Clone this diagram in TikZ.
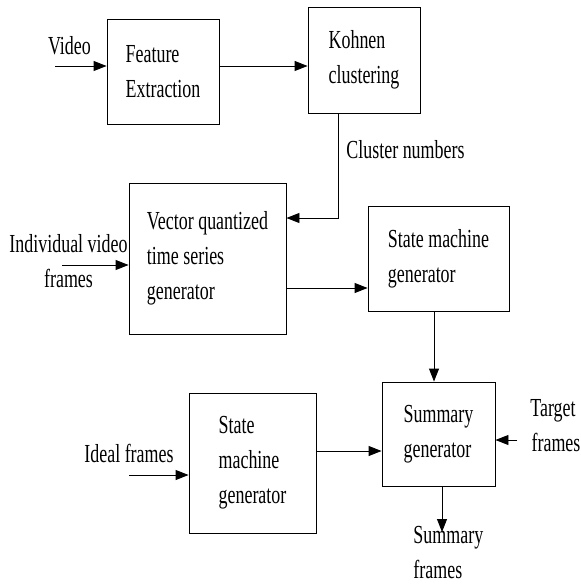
\documentclass[tikz,border=0pt]{standalone}
\usepackage{fontspec}
\setmainfont{Liberation Serif}[FakeStretch=0.69]
\usepackage{tikz}
\usetikzlibrary{positioning}
\usetikzlibrary{arrows.meta}
\usetikzlibrary{calc}

\begin{document}
\begin{tikzpicture}[
    x=1pt,y=-1pt,
    >={Triangle[length=13pt,width=10pt]},
    line width=0.9pt,
% Block style
    block/.style={rectangle,draw,align=left,inner sep=0pt},
    lbl/.style={inner sep=1pt},
    font={\fontsize{26pt}{35pt}\selectfont}
    ]

  \useasboundingbox (0,0) rectangle (580,585);

  \node (fe) at (163,71.5) [block,minimum width=112,minimum height=105] {Feature\\Extraction};
  \node (kc) at (364,60) [block,minimum width=112,minimum height=106] {Kohnen\\clustering};
  \node (vq) at (207.5,258.5) [block,minimum width=157,minimum height=151] {Vector quantized\\time series\\generator};
  \node (sm) at (438.5,258.5) [block,minimum width=141,minimum height=105] {State machine\\generator};
  \node (sg) at (438.5,434) [block,minimum width=113,minimum height=104] {Summary\\generator\hspace{12pt}};
  \node (sm2) at (252.5,463) [block,minimum width=127,minimum height=140] {State\\machine\\generator};

  \node (video) at (69.5,46) [lbl] {Video};
  \node (cnum) at (345,150) [lbl,anchor=west] {Cluster numbers};
  \node (ivf) at (68.5,261) [lbl,align=center] {Individual video\\frames};
  \node (ideal) at (129,453) [lbl] {Ideal frames};
  \node (tgt) at (553,426) [lbl,align=center] {Target\\\hspace{6pt}frames};
  \node (sfr) at (412,553) [lbl,anchor=west,align=left] {Summary\\frames};

  \coordinate (vin) at (55,66);
  \coordinate (ivin) at (62,265);
  \coordinate (idin) at (129,475);
  \coordinate (tin) at (517,440);
  \coordinate (cbend) at (338,218);
  \coordinate (sout) at (442,532);

  \draw[->] (vin) -- (vin -| fe.west);
  \draw[->] (vin -| fe.east) -- (vin -| kc.west);
  \draw[->] (cbend |- kc.south) -- (cbend) -- (cbend -| vq.east);
  \draw[->] (ivin) -- (ivin -| vq.west);
  \draw[->] ([yshift=-29.5pt]vq.east) -- ([yshift=-29.5pt]vq.east -| sm.west);
  \draw[->] ([xshift=-4.5pt]sm.south) -- ([xshift=-4.5pt]sm.south |- sg.north);
  \draw[->] (idin) -- (idin -| sm2.west);
  \draw[->] ([yshift=12pt]sm2.east) -- ([yshift=12pt]sm2.east -| sg.west);
  \draw[->] (tin) -- (tin -| sg.east);
  \draw[->] (sout |- sg.south) -- (sout);

\end{tikzpicture}
\end{document}
